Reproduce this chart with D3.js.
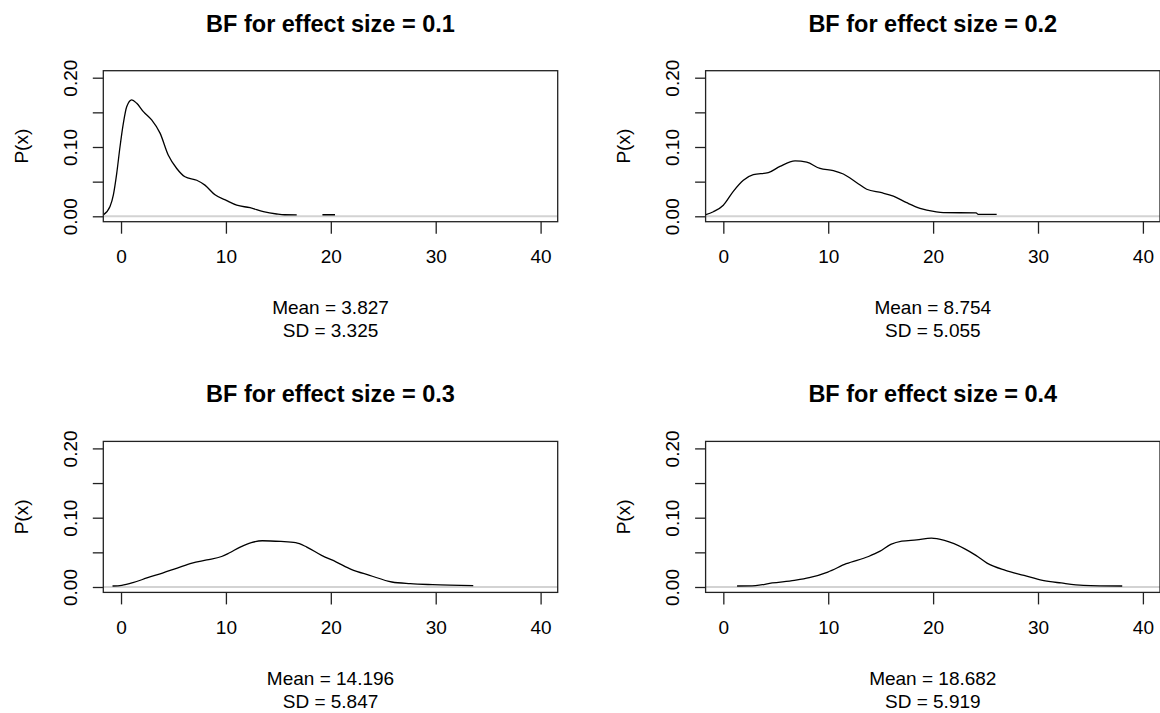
<!DOCTYPE html>
<html lang="en">
  <head>
    <meta charset="utf-8">
    <title>BF_density_panels</title>
    <script src="https://d3js.org/d3.v7.js"></script>
    <style>
      body { margin: 0; background: white; }
      text { font-family: "Liberation Sans", Arial, sans-serif; fill: #000; }
    </style>
  </head>

  <body>
  <script>

// data

  var titles = ["BF for effect size = 0.1", "BF for effect size = 0.2",
                "BF for effect size = 0.3", "BF for effect size = 0.4"];
  var means = ["3.827", "8.754", "14.196", "18.682"];
  var sds = ["3.325", "5.055", "5.847", "5.919"];

  var xTicks = [0, 10, 20, 30, 40];
  var yTicks = [0, 0.05, 0.10, 0.15, 0.20];
  var yTickLabels = ["0.00", "", "0.10", "", "0.20"];

  // null marks a break in the curve
  var dens1 = [[-1.69, 0.002], [-1.05, 0.014], [-0.73, 0.031], [-0.41, 0.062], [-0.1, 0.100],
               [0.22, 0.134], [0.54, 0.158], [1.02, 0.168], [1.5, 0.163], [2.13, 0.151],
               [2.92, 0.139], [3.72, 0.120], [4.51, 0.088], [5.31, 0.069], [6.10, 0.057],
               [7.22, 0.052], [8.0, 0.045], [8.96, 0.031], [10.08, 0.0225], [11.03, 0.016],
               [12.30, 0.0124], [13.57, 0.0066], [14.84, 0.0033], [15.6, 0.0022], [16.75, 0.0021],
               null, [19.2, 0.0022], [20.4, 0.0022]];

  var dens2 = [[-1.74, 0.002], [-0.95, 0.0066], [0, 0.016], [0.95, 0.036], [1.91, 0.052],
               [2.86, 0.060], [4.29, 0.063], [5.40, 0.072], [6.84, 0.080], [7.95, 0.078],
               [9.22, 0.069], [10.49, 0.066], [11.44, 0.061], [12.72, 0.0485], [13.67, 0.039],
               [15.10, 0.034], [16.21, 0.029], [17.48, 0.0196], [18.75, 0.0115], [20.18, 0.0066],
               [20.97, 0.0052], [24.1, 0.0050], [24.3, 0.0028], [26.06, 0.0028]];

  var dens3 = [[-0.81, 0.0014], [0.07, 0.0024], [1.13, 0.0062], [2.54, 0.0134], [3.95, 0.020],
               [5.36, 0.0273], [6.77, 0.0345], [8.18, 0.039], [9.59, 0.044], [10.30, 0.049],
               [11.36, 0.0576], [12.42, 0.064], [13.47, 0.0667], [15.24, 0.0657], [16.65, 0.064],
               [17.71, 0.0576], [19.12, 0.0456], [20.53, 0.036], [21.94, 0.0254], [23.70, 0.0168],
               [25.82, 0.0072], [27.58, 0.0048], [29.70, 0.0034], [33.58, 0.002]];

  var dens4 = [[1.31, 0.0014], [3.07, 0.002], [4.66, 0.0058], [6.78, 0.0096], [8.19, 0.0134],
               [9.96, 0.0216], [11.72, 0.0336], [13.84, 0.044], [14.90, 0.0513], [15.96, 0.0614],
               [17.02, 0.0662], [18.43, 0.068], [19.84, 0.0705], [21.08, 0.0671], [23.02, 0.055],
               [24.08, 0.0456], [25.14, 0.0345], [26.9, 0.024], [28.67, 0.0168], [30.43, 0.0096],
               [32.20, 0.0058], [34.32, 0.0024], [38.03, 0.0014]];

  var curves = [dens1, dens2, dens3, dens4];

// layout

  var w = 1160;
  var h = 713;
  var box = {left: 103.3, right: 557.7, top: 70.7, bottom: 221.7};
  var colStep = 602.3;
  var rowStep = 370.7;

  var xScale = d3.scaleLinear()
      .domain([-1.69, 41.63])
      .range([box.left, box.right]);

  var yScale = d3.scaleLinear()
      .domain([-0.0078, 0.2101])
      .range([box.bottom, box.top]);

  var line = d3.line()
      .defined(d => d !== null)
      .x(d => xScale(d[0]))
      .y(d => yScale(d[1]))
      .curve(d3.curveMonotoneX);

  var svg = d3.select("body")
    .append("svg")
      .attr("width", w)
      .attr("height", h);

  svg.append("defs").append("clipPath")
      .attr("id", "plotclip")
    .append("rect")
      .attr("x", box.left)
      .attr("y", box.top)
      .attr("width", box.right - box.left)
      .attr("height", box.bottom - box.top);

  var cx = (box.left + box.right) / 2;
  var cy = (box.top + box.bottom) / 2;

  curves.forEach(function(data, i) {
    var g = svg.append("g")
        .attr("transform", `translate(${(i % 2) * colStep}, ${Math.floor(i / 2) * rowStep})`);

    // grey zero line
    g.append("line")
        .attr("x1", box.left)
        .attr("x2", box.right)
        .attr("y1", yScale(0))
        .attr("y2", yScale(0))
        .attr("stroke", "#d3d3d3")
        .attr("stroke-width", 2);

    // density curve
    g.append("path")
        .datum(data)
        .attr("clip-path", "url(#plotclip)")
        .attr("d", line)
        .attr("fill", "none")
        .attr("stroke", "#000")
        .attr("stroke-width", 1.3);

    // box
    g.append("rect")
        .attr("x", box.left)
        .attr("y", box.top)
        .attr("width", box.right - box.left)
        .attr("height", box.bottom - box.top)
        .attr("fill", "none")
        .attr("stroke", "#222")
        .attr("stroke-width", 1.3);

    // x axis
    var xAxis = g.append("g")
        .attr("transform", `translate(0, ${box.bottom})`)
        .call(d3.axisBottom(xScale).tickValues(xTicks).tickSize(12).tickPadding(16));
    xAxis.select(".domain").remove();
    xAxis.selectAll("line").attr("stroke", "#222").attr("stroke-width", 1.3);
    xAxis.selectAll("text")
        .attr("font-size", 19)
        .attr("fill", "#000")
        .style("font-family", "'Liberation Sans', Arial, sans-serif");

    // y axis, labels parallel to axis
    var yAxis = g.append("g")
        .attr("transform", `translate(${box.left}, 0)`)
        .call(d3.axisLeft(yScale).tickValues(yTicks).tickSize(10.5).tickFormat((d, k) => yTickLabels[k]));
    yAxis.select(".domain").remove();
    yAxis.selectAll("line").attr("stroke", "#222").attr("stroke-width", 1.3);
    yAxis.selectAll("text")
        .attr("x", null)
        .attr("dy", null)
        .attr("transform", "translate(-26.6, 0) rotate(-90)")
        .attr("text-anchor", "middle")
        .attr("font-size", 19)
        .attr("fill", "#000")
        .style("font-family", "'Liberation Sans', Arial, sans-serif");

    // y label
    g.append("text")
        .attr("transform", `translate(27.5, ${cy}) rotate(-90)`)
        .attr("text-anchor", "middle")
        .attr("font-size", 19)
        .text("P(x)");

    // title
    g.append("text")
        .attr("x", cx)
        .attr("y", 31.5)
        .attr("text-anchor", "middle")
        .attr("font-size", 23.5)
        .attr("font-weight", "bold")
        .text(titles[i]);

    // mean / sd
    g.append("text")
        .attr("x", cx)
        .attr("y", 314.3)
        .attr("text-anchor", "middle")
        .attr("font-size", 19)
        .text("Mean = " + means[i]);

    g.append("text")
        .attr("x", cx)
        .attr("y", 337.3)
        .attr("text-anchor", "middle")
        .attr("font-size", 19)
        .text("SD = " + sds[i]);
  });

  </script>
  </body>

</html>
